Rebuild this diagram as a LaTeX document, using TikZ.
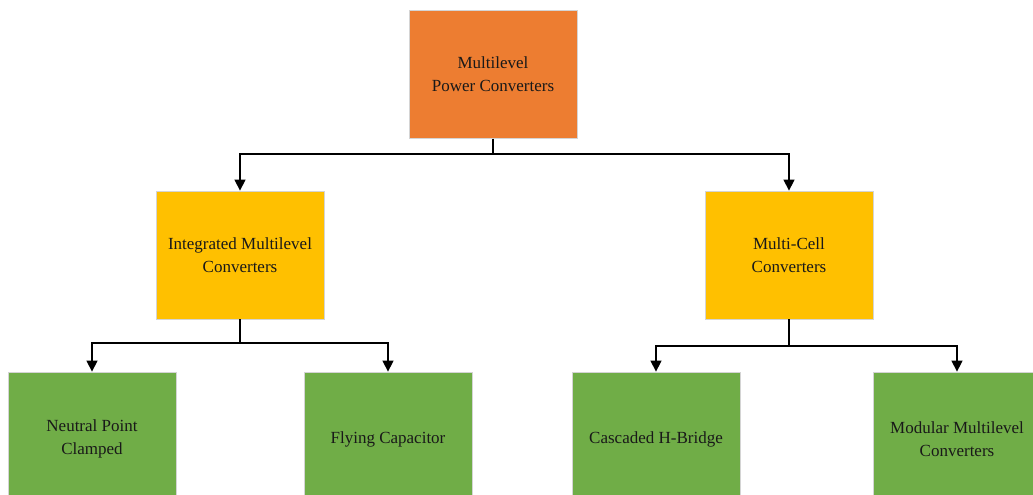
\documentclass[tikz,border=0pt]{standalone}
\usepackage{fontspec}
\setmainfont{Liberation Serif}
\usetikzlibrary{arrows.meta}
\definecolor{rootfill}{HTML}{ED7D31}
\definecolor{midfill}{HTML}{FFC000}
\definecolor{leaffill}{HTML}{70AD47}
\definecolor{boxline}{HTML}{D4D4D4}
\tikzset{
  box/.style={draw=boxline, line width=0.8pt, minimum width=168pt, minimum height=128pt,
    inner sep=0pt, align=center, text=black!90,
    font=\fontsize{17}{23}\selectfont},
  root/.style={box, fill=rootfill},
  mid/.style={box, fill=midfill},
  leaf/.style={box, fill=leaffill, minimum height=134pt},
  link/.style={line width=1.4pt, -{Triangle[width=11pt,length=11pt]}}
}
\begin{document}
\begin{tikzpicture}[x=1pt,y=-1pt]
\useasboundingbox (0,0) rectangle (1033,495);
\clip (0,0) rectangle (1033,495);
\node[root] (mpc) at (493,74.5) {Multilevel\\Power Converters};
\node[mid] (imc) at (240,255) {Integrated Multilevel\\Converters};
\node[mid] (mcc) at (789,255) {Multi-Cell\\Converters};
\node[leaf] (npc) at (92,439) {Neutral Point\\Clamped};
\node[leaf] (fc) at (388,439) {Flying Capacitor};
\node[leaf] (chb) at (656,439) {Cascaded H-Bridge};
\node[leaf] (mmc) at (957,439) {Modular Multilevel\\Converters};
\coordinate (j1) at (493,154);
\coordinate (j2) at (240,343);
\coordinate (j3) at (789,346);
\draw[link] (mpc.south) |- (j1) -| (imc.north);
\draw[link] (mpc.south) |- (j1) -| (mcc.north);
\draw[link] (imc.south) |- (j2) -| (npc.north);
\draw[link] (imc.south) |- (j2) -| (fc.north);
\draw[link] (mcc.south) |- (j3) -| (chb.north);
\draw[link] (mcc.south) |- (j3) -| (mmc.north);
\end{tikzpicture}
\end{document}
